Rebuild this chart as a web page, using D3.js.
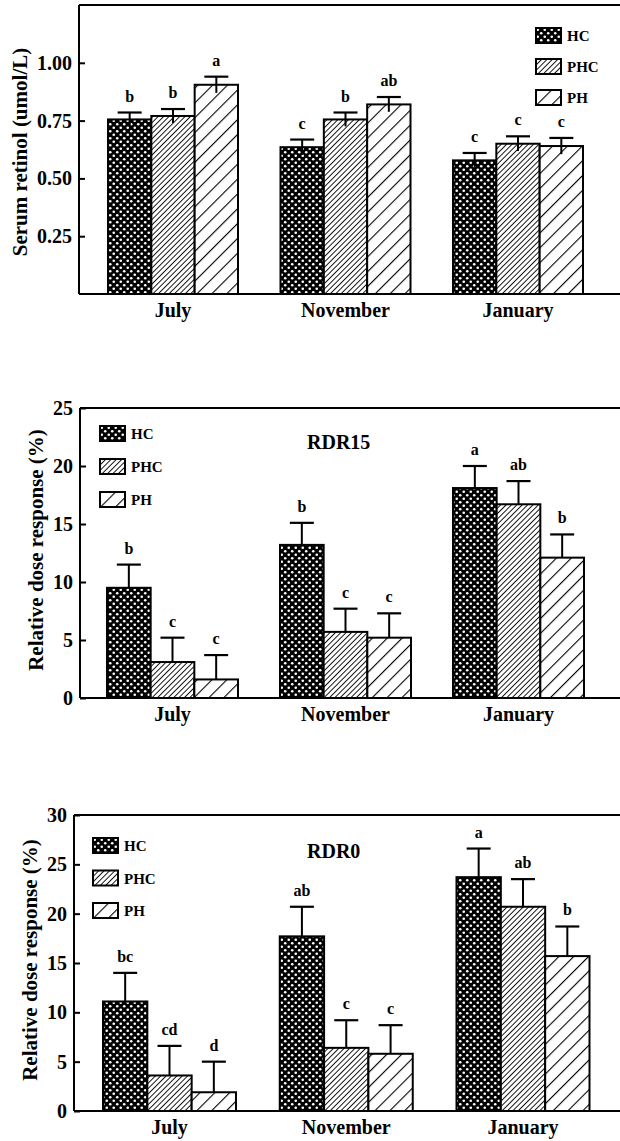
<!DOCTYPE html>
<html>
<head>
<meta charset="utf-8">
<script src="https://cdn.jsdelivr.net/npm/d3@7"></script>
<style>
  body { margin: 0; background: #fff; }
  text { font-family: "Liberation Serif", "DejaVu Serif", serif; font-weight: bold; fill: #000; }
</style>
</head>
<body>
<script>
// data
var months = ["July", "November", "January"];
var groups = ["HC", "PHC", "PH"];

var retinol = [[0.755, 0.77, 0.905], [0.635, 0.755, 0.82], [0.578, 0.65, 0.64]];
var retinolErr = [[0.03, 0.03, 0.035], [0.033, 0.03, 0.032], [0.032, 0.032, 0.035]];
var retinolLetters = [["b", "b", "a"], ["c", "b", "ab"], ["c", "c", "c"]];
var retinolTicks = [0.25, 0.5, 0.75, 1.0];

var rdr15 = [[9.5, 3.1, 1.6], [13.2, 5.7, 5.2], [18.1, 16.7, 12.1]];
var rdr15Err = [[2.0, 2.1, 2.1], [1.9, 2.0, 2.1], [1.9, 2.0, 2.0]];
var rdr15Letters = [["b", "c", "c"], ["b", "c", "c"], ["a", "ab", "b"]];
var rdr15Ticks = [0, 5, 10, 15, 20, 25];

var rdr0 = [[11.1, 3.6, 1.9], [17.7, 6.4, 5.8], [23.7, 20.7, 15.7]];
var rdr0Err = [[2.9, 3.0, 3.1], [3.0, 2.8, 2.9], [2.9, 2.8, 3.0]];
var rdr0Letters = [["bc", "cd", "d"], ["ab", "c", "c"], ["a", "ab", "b"]];
var rdr0Ticks = [0, 5, 10, 15, 20, 25, 30];

var W = 620, H = 1141;

var svg = d3.select("body").append("svg")
    .attr("width", W)
    .attr("height", H);

// fill patterns
var defs = svg.append("defs");
var dots = defs.append("pattern").attr("id", "pat-HC")
    .attr("patternUnits", "userSpaceOnUse").attr("width", 7).attr("height", 7);
dots.append("rect").attr("width", 7).attr("height", 7).attr("fill", "#000");
dots.append("circle").attr("cx", 1.75).attr("cy", 1.75).attr("r", 1.3).attr("fill", "#fff");
dots.append("circle").attr("cx", 5.25).attr("cy", 5.25).attr("r", 1.3).attr("fill", "#fff");

function hatch(id, step, sw) {
    var p = defs.append("pattern").attr("id", id)
        .attr("patternUnits", "userSpaceOnUse")
        .attr("width", step).attr("height", step)
        .attr("patternTransform", "rotate(45)");
    p.append("rect").attr("width", step).attr("height", step).attr("fill", "#fff");
    p.append("line").attr("x1", 0).attr("y1", 0).attr("x2", 0).attr("y2", step)
        .attr("stroke", "#000").attr("stroke-width", sw * 2);
}
hatch("pat-PHC", 3.8, 0.9);
hatch("pat-PH", 10.5, 1.1);

function panel(o) {
    var y = d3.scaleLinear().domain(o.domain).range([o.bottom, o.top]);
    var x = d3.scalePoint().domain(months).range(o.centers);
    var inner = d3.scaleBand().domain(groups).range([-o.gw / 2, o.gw / 2]);
    var g = svg.append("g");

    // frame: top line + bottom axis running off to the right
    g.append("line").attr("x1", o.left).attr("x2", W).attr("y1", o.top).attr("y2", o.top)
        .attr("stroke", "#000").attr("stroke-width", 2);
    g.append("line").attr("x1", o.left).attr("x2", W).attr("y1", o.bottom).attr("y2", o.bottom)
        .attr("stroke", "#000").attr("stroke-width", 2.2);

    var ax = g.append("g").attr("transform", "translate(" + o.left + ",0)")
        .call(d3.axisLeft(y).tickValues(o.ticks).tickSize(-6).tickPadding(7).tickFormat(o.fmt));
    ax.select(".domain").attr("d", "M0," + o.top + "V" + o.bottom).attr("stroke-width", 2);
    ax.selectAll(".tick line").attr("stroke-width", 2);
    ax.selectAll(".tick text").style("font-size", "20px").style("font-family", "Liberation Serif").style("font-weight", "bold");

    var rows = [];
    months.forEach(function(m, i) {
        groups.forEach(function(s, j) {
            rows.push({ m: m, s: s, v: o.vals[i][j], e: o.errs[i][j], l: o.letters[i][j] });
        });
    });

    var bars = g.selectAll(".bar").data(rows).enter().append("g");
    var bx = function(d) { return x(d.m) + inner(d.s); };
    var cap = 12;

    // error bars
    bars.append("line")
        .attr("x1", function(d) { return bx(d) + inner.bandwidth() / 2; })
        .attr("x2", function(d) { return bx(d) + inner.bandwidth() / 2; })
        .attr("y1", function(d) { return o.sym ? y(d.v - d.e) : y(d.v); })
        .attr("y2", function(d) { return y(d.v + d.e); })
        .attr("stroke", "#000").attr("stroke-width", 2);
    bars.append("line")
        .attr("x1", function(d) { return bx(d) + inner.bandwidth() / 2 - cap; })
        .attr("x2", function(d) { return bx(d) + inner.bandwidth() / 2 + cap; })
        .attr("y1", function(d) { return y(d.v + d.e); })
        .attr("y2", function(d) { return y(d.v + d.e); })
        .attr("stroke", "#000").attr("stroke-width", 2.2);

    bars.insert("rect", ":first-child")
        .attr("x", bx)
        .attr("y", function(d) { return y(d.v); })
        .attr("width", inner.bandwidth())
        .attr("height", function(d) { return o.bottom - y(d.v); })
        .attr("fill", function(d) { return "url(#pat-" + d.s + ")"; })
        .attr("stroke", "#000").attr("stroke-width", 2);

    bars.append("text")
        .attr("x", function(d) { return bx(d) + inner.bandwidth() / 2; })
        .attr("y", function(d) { return y(d.v + d.e) - 11; })
        .attr("text-anchor", "middle")
        .style("font-size", "16px")
        .text(function(d) { return d.l; });

    // month labels
    g.selectAll(".mlab").data(months).enter().append("text")
        .attr("x", function(d) { return x(d); })
        .attr("y", o.bottom + 23)
        .attr("text-anchor", "middle")
        .style("font-size", "20px")
        .text(function(d) { return d; });

    // y title
    g.append("text")
        .attr("transform", "translate(" + o.ylabX + "," + o.ylabY + ") rotate(-90)")
        .attr("text-anchor", "middle")
        .style("font-size", o.ylabSize + "px")
        .text(o.ylab);

    if (o.title) {
        g.append("text").attr("x", 307).attr("y", o.titleY)
            .style("font-size", "20px").text(o.title);
    }

    // legend
    var lg = g.selectAll(".leg").data(groups).enter().append("g")
        .attr("transform", function(d, i) { return "translate(" + o.legX + "," + (o.legY + i * o.legStep) + ")"; });
    lg.append("rect").attr("width", 25).attr("height", 15)
        .attr("fill", function(d) { return "url(#pat-" + d + ")"; })
        .attr("stroke", "#000").attr("stroke-width", 2);
    lg.append("text").attr("x", 31).attr("y", 13)
        .style("font-size", "15px")
        .text(function(d) { return d; });
}

panel({
    top: 5, bottom: 294, left: 79, domain: [0, 1.25], ticks: retinolTicks,
    fmt: d3.format(".2f"), centers: [173, 518], gw: 130,
    vals: retinol, errs: retinolErr, letters: retinolLetters, sym: true,
    ylab: "Serum retinol (umol/L)", ylabX: 27, ylabY: 152, ylabSize: 21,
    legX: 536, legY: 28, legStep: 31
});

panel({
    top: 408, bottom: 698, left: 80, domain: [0, 25], ticks: rdr15Ticks,
    fmt: d3.format("d"), centers: [172.5, 518.5], gw: 131,
    vals: rdr15, errs: rdr15Err, letters: rdr15Letters, sym: false,
    ylab: "Relative dose response (%)", ylabX: 43, ylabY: 550, ylabSize: 21,
    title: "RDR15", titleY: 449,
    legX: 100, legY: 426, legStep: 33
});

panel({
    top: 815, bottom: 1111, left: 74, domain: [0, 30], ticks: rdr0Ticks,
    fmt: d3.format("d"), centers: [169.5, 523], gw: 133,
    vals: rdr0, errs: rdr0Err, letters: rdr0Letters, sym: false,
    ylab: "Relative dose response (%)", ylabX: 37, ylabY: 960, ylabSize: 21,
    title: "RDR0", titleY: 858,
    legX: 93, legY: 838, legStep: 32.5
});
</script>
</body>
</html>
